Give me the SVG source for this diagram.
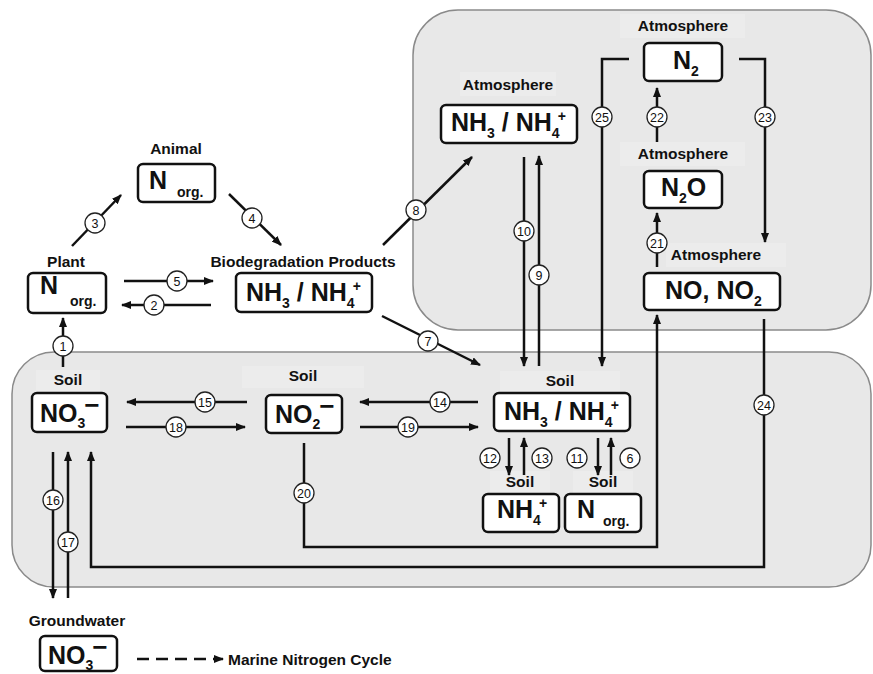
<svg xmlns="http://www.w3.org/2000/svg" width="873" height="674" viewBox="0 0 873 674">
<style>
.lbl{font-family:"Liberation Sans",Arial,sans-serif;font-weight:bold;font-size:15.5px;text-anchor:middle;fill:#111}
.big{font-family:"Liberation Sans",Arial,sans-serif;font-weight:bold;font-size:25px;fill:#111}
.sub{font-size:14px}
.num{font-family:"Liberation Sans",Arial,sans-serif;font-size:12.5px;text-anchor:middle;fill:#111}
.box{fill:#fff;stroke:#111;stroke-width:2.5}
.panel{fill:#e8e8e8;stroke:#8a8a8a;stroke-width:1.5}
.lbg{fill:#ececec}
.con{fill:none;stroke:#111;stroke-width:2.5}
.c{fill:#fff;stroke:#222;stroke-width:1.3}
</style>
<defs>
<marker id="ah" markerUnits="userSpaceOnUse" markerWidth="10" markerHeight="8" refX="9" refY="4" orient="auto">
<path d="M0,0 L10,4 L0,8 z" fill="#111"/>
</marker>
</defs>

<g id="panels">
<rect class="panel" x="413" y="10" width="458" height="320" rx="45"/>
<rect class="panel" x="12" y="352" width="859" height="235" rx="42"/>
</g>

<g id="label-bgs">
<rect class="lbg" x="460" y="72" width="96" height="24"/>
<rect class="lbg" x="620" y="14" width="125" height="24"/>
<rect class="lbg" x="620" y="142" width="125" height="24"/>
<rect class="lbg" x="666" y="243" width="120" height="24"/>
<rect class="lbg" x="36" y="370" width="64" height="22"/>
<rect class="lbg" x="242" y="366" width="122" height="22"/>
<rect class="lbg" x="500" y="371" width="120" height="22"/>
<rect class="lbg" x="490" y="471" width="60" height="22"/>
<rect class="lbg" x="573" y="471" width="60" height="22"/>
</g>

<g id="connectors">
<line class="con" x1="63" y1="367" x2="63" y2="318" marker-end="url(#ah)"/>
<line class="con" x1="72" y1="246" x2="121" y2="195" marker-end="url(#ah)"/>
<line class="con" x1="229" y1="194" x2="281" y2="245" marker-end="url(#ah)"/>
<line class="con" x1="124" y1="281" x2="213" y2="281" marker-end="url(#ah)"/>
<line class="con" x1="211" y1="305" x2="122" y2="305" marker-end="url(#ah)"/>
<line class="con" x1="383" y1="245" x2="472" y2="157" marker-end="url(#ah)"/>
<line class="con" x1="382" y1="316" x2="480" y2="365" marker-end="url(#ah)"/>
<line class="con" x1="524" y1="157" x2="524" y2="366" marker-end="url(#ah)"/>
<line class="con" x1="539" y1="366" x2="539" y2="156" marker-end="url(#ah)"/>
<path class="con" d="M629,59 H602 V366" marker-end="url(#ah)"/>
<path class="con" d="M739,59 H765 V242" marker-end="url(#ah)"/>
<line class="con" x1="657" y1="142" x2="657" y2="88" marker-end="url(#ah)"/>
<line class="con" x1="657" y1="267" x2="657" y2="213" marker-end="url(#ah)"/>
<path class="con" d="M764,319 V567 H91 V452" marker-end="url(#ah)"/>
<path class="con" d="M304,443 V547 H657 V315" marker-end="url(#ah)"/>
<line class="con" x1="247" y1="402" x2="127" y2="402" marker-end="url(#ah)"/>
<line class="con" x1="126" y1="427" x2="245" y2="427" marker-end="url(#ah)"/>
<line class="con" x1="478" y1="402" x2="360" y2="402" marker-end="url(#ah)"/>
<line class="con" x1="360" y1="427" x2="478" y2="427" marker-end="url(#ah)"/>
<line class="con" x1="509" y1="438" x2="509" y2="475" marker-end="url(#ah)"/>
<line class="con" x1="524" y1="475" x2="524" y2="438" marker-end="url(#ah)"/>
<line class="con" x1="598" y1="438" x2="598" y2="475" marker-end="url(#ah)"/>
<line class="con" x1="611" y1="475" x2="611" y2="438" marker-end="url(#ah)"/>
<line class="con" x1="53" y1="452" x2="53" y2="598" marker-end="url(#ah)"/>
<line class="con" x1="68" y1="598" x2="68" y2="452" marker-end="url(#ah)"/>
<line class="con" x1="137" y1="659" x2="223" y2="659" stroke-dasharray="12 7" marker-end="url(#ah)"/>
</g>

<g id="numbers">
<circle class="c" cx="63" cy="346" r="10"/><text class="num" x="63" y="350.5">1</text>
<circle class="c" cx="154" cy="305" r="10"/><text class="num" x="154" y="309.5">2</text>
<circle class="c" cx="95" cy="223" r="10"/><text class="num" x="95" y="227.5">3</text>
<circle class="c" cx="252" cy="218" r="10"/><text class="num" x="252" y="222.5">4</text>
<circle class="c" cx="177" cy="281" r="10"/><text class="num" x="177" y="285.5">5</text>
<circle class="c" cx="630" cy="458" r="10"/><text class="num" x="630" y="462.5">6</text>
<circle class="c" cx="428" cy="341" r="10"/><text class="num" x="428" y="345.5">7</text>
<circle class="c" cx="416" cy="210" r="10"/><text class="num" x="416" y="214.5">8</text>
<circle class="c" cx="539" cy="275" r="10"/><text class="num" x="539" y="279.5">9</text>
<circle class="c" cx="524" cy="231" r="10"/><text class="num" x="524" y="235.5">10</text>
<circle class="c" cx="577" cy="458" r="10"/><text class="num" x="577" y="462.5">11</text>
<circle class="c" cx="490" cy="458" r="10"/><text class="num" x="490" y="462.5">12</text>
<circle class="c" cx="542" cy="458" r="10"/><text class="num" x="542" y="462.5">13</text>
<circle class="c" cx="440" cy="402" r="10"/><text class="num" x="440" y="406.5">14</text>
<circle class="c" cx="205" cy="402" r="10"/><text class="num" x="205" y="406.5">15</text>
<circle class="c" cx="53" cy="500" r="10"/><text class="num" x="53" y="504.5">16</text>
<circle class="c" cx="68" cy="542" r="10"/><text class="num" x="68" y="546.5">17</text>
<circle class="c" cx="176" cy="427" r="10"/><text class="num" x="176" y="431.5">18</text>
<circle class="c" cx="408" cy="427" r="10"/><text class="num" x="408" y="431.5">19</text>
<circle class="c" cx="304" cy="493" r="10"/><text class="num" x="304" y="497.5">20</text>
<circle class="c" cx="657" cy="243" r="10"/><text class="num" x="657" y="247.5">21</text>
<circle class="c" cx="657" cy="117" r="10"/><text class="num" x="657" y="121.5">22</text>
<circle class="c" cx="765" cy="117" r="10"/><text class="num" x="765" y="121.5">23</text>
<circle class="c" cx="764" cy="405" r="10"/><text class="num" x="764" y="409.5">24</text>
<circle class="c" cx="602" cy="117" r="10"/><text class="num" x="602" y="121.5">25</text>
</g>

<g id="plant">
<text class="lbl" x="66" y="267">Plant</text>
<rect class="box" x="28" y="273" width="78" height="40" rx="5"/>
<text class="big" x="40" y="294">N<tspan class="sub" x="70" y="306">org.</tspan></text>
</g>

<g id="animal">
<text class="lbl" x="176" y="154">Animal</text>
<rect class="box" x="138" y="164" width="77" height="38" rx="5"/>
<text class="big" x="149" y="189">N<tspan class="sub" x="177" y="197">org.</tspan></text>
</g>

<g id="biodegradation">
<text class="lbl" x="303" y="267">Biodegradation Products</text>
<rect class="box" x="236" y="273" width="136" height="39" rx="5"/>
<text class="big" x="246" y="301">NH<tspan class="sub" dy="7">3</tspan><tspan dy="-7"> / NH</tspan><tspan class="sub" dy="7">4</tspan><tspan class="sub" dx="-2" dy="-17">+</tspan></text>
</g>

<g id="atm-nh3">
<text class="lbl" x="508" y="90">Atmosphere</text>
<rect class="box" x="441" y="105" width="136" height="38" rx="5"/>
<text class="big" x="451" y="131">NH<tspan class="sub" dy="7">3</tspan><tspan dy="-7"> / NH</tspan><tspan class="sub" dy="7">4</tspan><tspan class="sub" dx="-2" dy="-17">+</tspan></text>
</g>

<g id="atm-n2">
<text class="lbl" x="683" y="31">Atmosphere</text>
<rect class="box" x="644" y="43" width="78" height="38" rx="5"/>
<text class="big" x="673" y="69">N<tspan class="sub" dy="7">2</tspan></text>
</g>

<g id="atm-n2o">
<text class="lbl" x="683" y="159">Atmosphere</text>
<rect class="box" x="644" y="171" width="78" height="37" rx="5"/>
<text class="big" x="661" y="196">N<tspan class="sub" dy="7">2</tspan><tspan dy="-7">O</tspan></text>
</g>

<g id="atm-no">
<text class="lbl" x="716" y="260">Atmosphere</text>
<rect class="box" x="644" y="273" width="136" height="37" rx="5"/>
<text class="big" x="665" y="299">NO, NO<tspan class="sub" dy="7">2</tspan></text>
</g>

<g id="soil-no3">
<text class="lbl" x="68" y="385">Soil</text>
<rect class="box" x="32" y="393" width="75" height="39" rx="5"/>
<text class="big" x="40" y="422">NO<tspan class="sub" dy="6">3</tspan><tspan font-size="26" dx="-1" dy="-14">−</tspan></text>
</g>

<g id="soil-no2">
<text class="lbl" x="303" y="381">Soil</text>
<rect class="box" x="266" y="395" width="76" height="38" rx="5"/>
<text class="big" x="275" y="423">NO<tspan class="sub" dy="6">2</tspan><tspan font-size="26" dx="-1" dy="-14">−</tspan></text>
</g>

<g id="soil-nh3">
<text class="lbl" x="560" y="386">Soil</text>
<rect class="box" x="494" y="393" width="136" height="38" rx="5"/>
<text class="big" x="504" y="420">NH<tspan class="sub" dy="7">3</tspan><tspan dy="-7"> / NH</tspan><tspan class="sub" dy="7">4</tspan><tspan class="sub" dx="-2" dy="-17">+</tspan></text>
</g>

<g id="soil-nh4">
<text class="lbl" x="520" y="487">Soil</text>
<rect class="box" x="483" y="494" width="76" height="38" rx="5"/>
<text class="big" x="497" y="518">NH<tspan class="sub" dy="7">4</tspan><tspan class="sub" dx="-2" dy="-17">+</tspan></text>
</g>

<g id="soil-norg">
<text class="lbl" x="603" y="487">Soil</text>
<rect class="box" x="565" y="494" width="76" height="38" rx="5"/>
<text class="big" x="577" y="518">N<tspan class="sub" x="603" y="526">org.</tspan></text>
</g>

<g id="groundwater">
<text class="lbl" x="77" y="626">Groundwater</text>
<rect class="box" x="40" y="636" width="77" height="35" rx="5"/>
<text class="big" x="48" y="664">NO<tspan class="sub" dy="6">3</tspan><tspan font-size="26" dx="-1" dy="-14">−</tspan></text>
</g>

<g id="marine">
<text class="lbl" x="228" y="665" style="text-anchor:start">Marine Nitrogen Cycle</text>
</g>
</svg>
